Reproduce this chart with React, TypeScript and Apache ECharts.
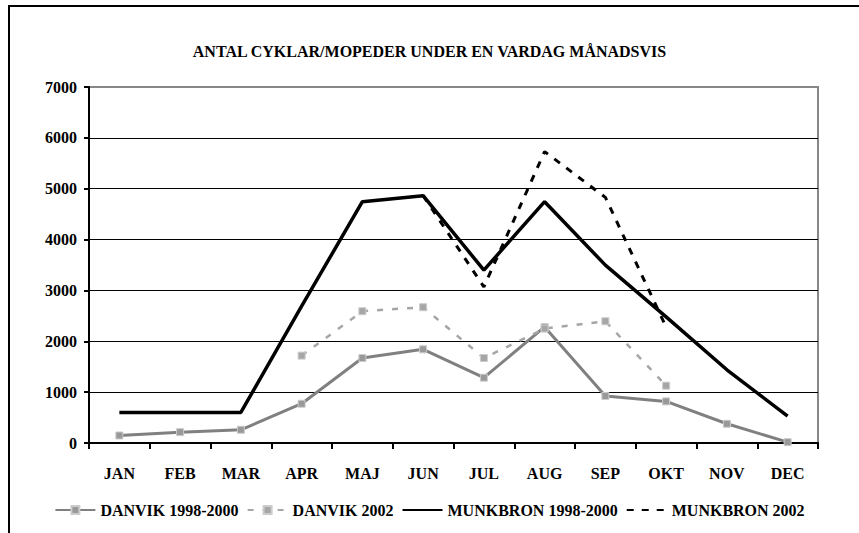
import React, { useEffect, useRef } from "react";
import * as echarts from "echarts";

const months = ["JAN", "FEB", "MAR", "APR", "MAJ", "JUN", "JUL", "AUG", "SEP", "OKT", "NOV", "DEC"];
const danvik9800 = [148, 213, 260, 772, 1671, 1842, 1284, 2282, 923, 818, 378, 16];
const danvik2002 = [null, null, null, 1718, 2591, 2670, 1671, 2250, 2394, 1127, null, null];
const munkbron9800 = [600, 600, 600, 2690, 4745, 4863, 3399, 4745, 3497, 2479, 1440, 527];
const munkbron2002 = [null, null, null, null, null, 4863, 3070, 5730, 4830, 2280, null, null];
const seriesNames = ["DANVIK 1998-2000", "DANVIK 2002", "MUNKBRON 1998-2000", "MUNKBRON 2002"];
const titleText = "ANTAL CYKLAR/MOPEDER UNDER EN VARDAG MÅNADSVIS";

const FONT = "'Liberation Serif', 'Times New Roman', serif";

export default function App() {
  const ref = useRef<HTMLDivElement>(null);
  useEffect(() => {
    if (!ref.current) return;
    const chart = echarts.init(ref.current, null, { renderer: "svg" });
    chart.setOption({
      animation: false,
      backgroundColor: "#fff",
      title: {
        text: titleText,
        left: "center",
        top: 38,
        textStyle: { fontFamily: FONT, fontWeight: "bold", fontSize: 16, color: "#000" },
      },
      graphic: [
        {
          type: "rect",
          shape: { x: 9, y: 6, width: 900, height: 600 },
          style: { fill: "none", stroke: "#000", lineWidth: 2 },
          silent: true,
        },
      ],
      legend: {
        left: "center",
        top: 497,
        itemWidth: 40,
        itemHeight: 10,
        itemGap: 8,
        data: [
          { name: seriesNames[0] },
          { name: seriesNames[1] },
          { name: seriesNames[2], itemStyle: { opacity: 0 } },
          { name: seriesNames[3], itemStyle: { opacity: 0 } },
        ],
        textStyle: { fontFamily: FONT, fontWeight: "bold", fontSize: 16, color: "#000" },
      },
      grid: {
        left: 89,
        right: 41,
        top: 87,
        bottom: 90,
        show: true,
        borderColor: "#888",
        borderWidth: 2,
        backgroundColor: "transparent",
      },
      xAxis: {
        type: "category",
        data: months,
        boundaryGap: true,
        axisLine: { show: true, lineStyle: { color: "#000", width: 2 } },
        axisTick: { show: true, inside: false, alignWithLabel: false, interval: 0, length: 6, lineStyle: { color: "#000", width: 2 } },
        axisLabel: { fontFamily: FONT, fontWeight: "bold", fontSize: 16, color: "#000", margin: 22 },
        splitLine: { show: false },
      },
      yAxis: {
        type: "value",
        min: 0,
        max: 7000,
        interval: 1000,
        axisLine: { show: true, lineStyle: { color: "#000", width: 2 } },
        axisTick: { show: true, inside: false, length: 5, lineStyle: { color: "#000", width: 2 } },
        axisLabel: {
          fontFamily: FONT,
          fontWeight: "bold",
          fontSize: 16,
          color: "#000",
          margin: 12,
          formatter: (v: number) => String(v),
        },
        splitLine: {
          show: true,
          lineStyle: {
            color: ["#000", "#000", "#000", "#000", "#000", "#000", "#000", "#888"],
            width: 1,
          },
        },
      },
      series: [
        {
          name: seriesNames[0],
          type: "line",
          data: danvik9800,
          symbol: "rect",
          symbolSize: 7,
          showAllSymbol: true,
          lineStyle: { color: "#808080", width: 3 },
          itemStyle: { color: "#999", borderColor: "#ccc", borderWidth: 1 },
          z: 2,
        },
        {
          name: seriesNames[1],
          type: "line",
          data: danvik2002,
          symbol: "rect",
          symbolSize: 7,
          showAllSymbol: true,
          connectNulls: false,
          lineStyle: { color: "#a6a6a6", width: 2.5, type: [6, 9] },
          itemStyle: { color: "#a6a6a6", borderColor: "#ccc", borderWidth: 1 },
          z: 3,
        },
        {
          name: seriesNames[2],
          type: "line",
          data: munkbron9800,
          symbol: "none",
          lineStyle: { color: "#000", width: 3.5 },
          itemStyle: { color: "#000" },
          z: 4,
        },
        {
          name: seriesNames[3],
          type: "line",
          data: munkbron2002,
          symbol: "none",
          connectNulls: false,
          lineStyle: { color: "#000", width: 3, type: [7, 8] },
          itemStyle: { color: "#000" },
          z: 5,
        },
      ],
    });
    return () => chart.dispose();
  }, []);
  return (
    <div
      ref={ref}
      style={{ position: "fixed", left: 0, top: 0, width: 859, height: 533 }}
    />
  );
}
